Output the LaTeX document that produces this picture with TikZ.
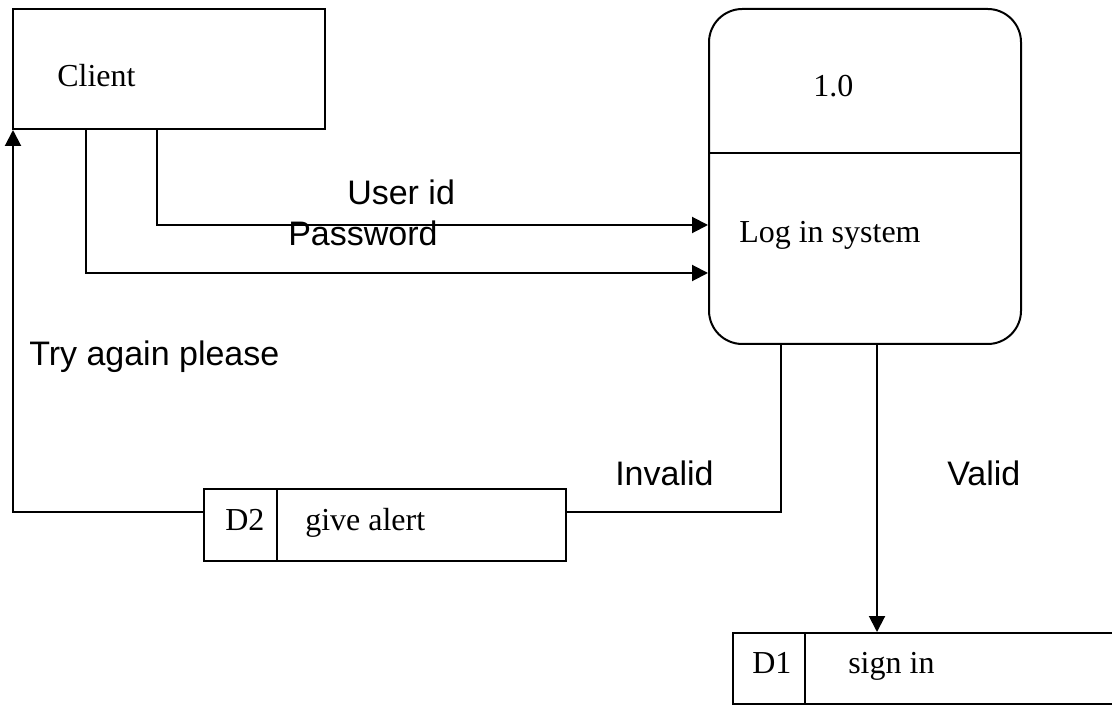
\documentclass[tikz,border=0pt]{standalone}
\usepackage{fontspec}
\setmainfont{Liberation Serif}
\newfontfamily\labelfont{Liberation Sans}
\usetikzlibrary{arrows.meta}
\tikzset{
  box/.style={draw, line width=1.5pt, inner sep=0pt},
  caption/.style={inner sep=0pt, anchor=base west, font=\fontsize{24}{28}\selectfont},
  flowlabel/.style={inner sep=0pt, anchor=base west, font=\labelfont\fontsize{25.5}{30}\selectfont},
  flow/.style={line width=1.5pt, -{Triangle[length=12pt, width=12pt]}},
  plain/.style={line width=1.5pt},
}
\begin{document}
\begin{tikzpicture}[x=0.75pt, y=-0.75pt]
\useasboundingbox (0,0) rectangle (1112,705);
\clip (0,0) rectangle (1112,705);

% external entity
\node[box, minimum width=234pt, minimum height=90pt] (client) at (169,69) {};
\node[caption] (clienttxt) at (57,87) {Client};

% process
\node[box, rounded corners=25pt, minimum width=234pt, minimum height=251.25pt] (proc) at (865,176.5) {};
\coordinate (divl) at (proc.west |- 0,153);
\coordinate (divr) at (proc.east |- 0,153);
\draw[plain] (divl) -- (divr);
\node[caption] (procid) at (813,97) {1.0};
\node[caption] (procname) at (739,243) {Log in system};

% data store D2
\node[box, minimum width=271.5pt, minimum height=54pt] (d2) at (385,525) {};
\coordinate (d2t) at (277,489);
\coordinate (d2b) at (277,561);
\draw[plain] (d2t) -- (d2b);
\node[caption] (d2id) at (225,530) {D2};
\node[caption] (d2name) at (305,530) {give alert};

% data store D1 (runs off the right edge)
\node[box, minimum width=300pt, minimum height=53.25pt] (d1) at (933,668.5) {};
\coordinate (d1t) at (805,633);
\coordinate (d1b) at (805,704);
\draw[plain] (d1t) -- (d1b);
\node[caption] (d1id) at (752,673) {D1};
\node[caption] (d1name) at (848,673) {sign in};

% flows
\draw[flow] (client.south -| 157,0) |- (proc.west |- 0,225);
\draw[flow] (client.south -| 86,0) |- (proc.west |- 0,273);
\draw[plain] (proc.south -| 781,0) |- (d2.east |- 0,512);
\draw[flow] (d2.west |- 0,512) -| (client.south -| 13,0);
\draw[flow] (proc.south -| 877,0) -- (d1.north -| 877,0);

% flow labels
\node[flowlabel] (uid) at (347,205) {User id};
\node[flowlabel] (pwd) at (288,246) {Password};
\node[flowlabel] (retry) at (29,366) {Try again please};
\node[flowlabel] (invalid) at (615,485) {Invalid};
\node[flowlabel] (valid) at (947,485) {Valid};
\end{tikzpicture}
\end{document}
